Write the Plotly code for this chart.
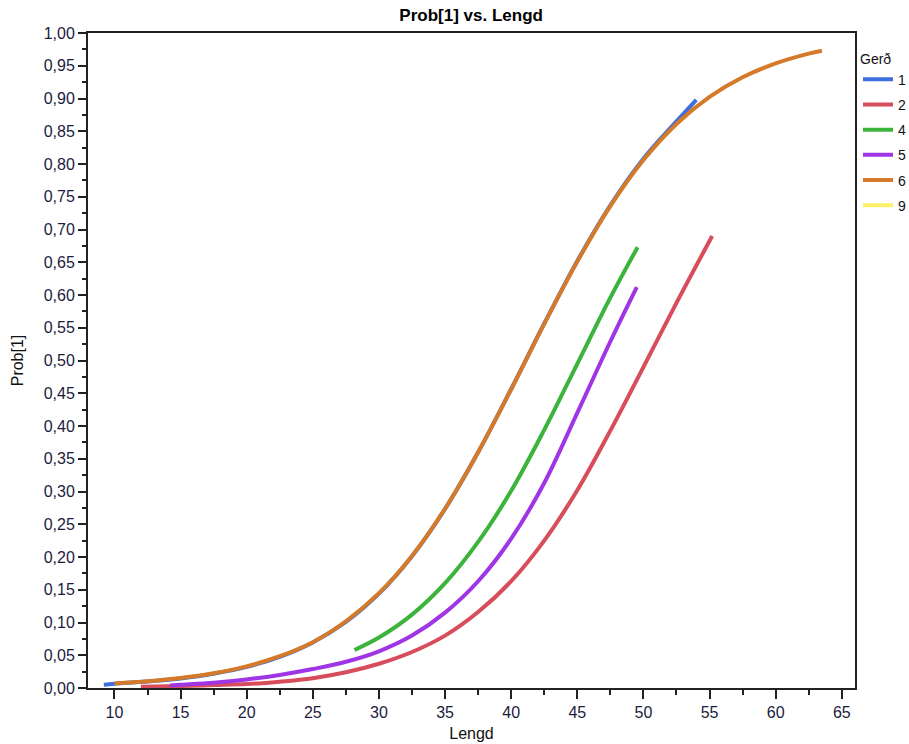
import plotly.graph_objects as go

# ---- data ----
ger_names = ["1", "2", "4", "5", "6", "9"]

x_1 = [9.2, 10, 12.5, 15, 17.5, 20, 22.5, 25, 27.5, 30, 32.5, 35, 37.5, 40, 42.5, 45, 47.5, 50, 52.5, 54.0]
y_1 = [0.005, 0.0066, 0.0098, 0.0146, 0.0218, 0.0322, 0.0475, 0.0695, 0.1008, 0.1440, 0.2012, 0.2735, 0.3600, 0.4565, 0.5565, 0.6520, 0.7370, 0.8080, 0.8650, 0.8980]

x_2 = [12, 15, 17.5, 20, 22.5, 25, 27.5, 30, 32.5, 35, 37.5, 40, 42.5, 45, 47.5, 50, 52.5, 55.2]
y_2 = [0.002, 0.003, 0.0045, 0.006, 0.0097, 0.015, 0.024, 0.037, 0.055, 0.080, 0.116, 0.163, 0.225, 0.302, 0.393, 0.490, 0.588, 0.690]

x_4 = [28.15, 30, 32.5, 35, 37.5, 40, 42.5, 45, 47.5, 49.56]
y_4 = [0.058, 0.077, 0.112, 0.160, 0.223, 0.301, 0.394, 0.495, 0.596, 0.673]

x_5 = [14.2, 15, 17.5, 20, 22.5, 25, 27.5, 30, 32.5, 35, 37.5, 40, 42.5, 45, 47.5, 49.5]
y_5 = [0.004, 0.005, 0.008, 0.013, 0.020, 0.029, 0.040, 0.056, 0.080, 0.115, 0.163, 0.228, 0.313, 0.420, 0.529, 0.612]

x_6 = [10, 12.5, 15, 17.5, 20, 22.5, 25, 27.5, 30, 32.5, 35, 37.5, 40, 42.5, 45, 47.5, 50, 52.5, 55, 57.5, 60, 62.5, 63.5]
y_6 = [0.0069, 0.0102, 0.0151, 0.0224, 0.0331, 0.0485, 0.0700, 0.1019, 0.1448, 0.2017, 0.2737, 0.3599, 0.4561, 0.5558, 0.6511, 0.7357, 0.8060, 0.8611, 0.9024, 0.9324, 0.9536, 0.9685, 0.9730]

# group 9 appears only in the legend (no visible curve)
x_9 = [None]
y_9 = [None]

series_x = [x_1, x_2, x_4, x_5, x_6, x_9]
series_y = [y_1, y_2, y_4, y_5, y_6, y_9]
colors = ["#3d6fdf", "#d84d5c", "#3cb43c", "#a035e6", "#d47a28", "#fff26a"]

fig = go.Figure()
for name, xs, ys, c in zip(ger_names, series_x, series_y, colors):
    fig.add_trace(go.Scatter(
        x=xs, y=ys, name=name, mode="lines",
        line=dict(color=c, width=4, shape="spline", smoothing=1.0),
        legendgroup=name, showlegend=True,
    ))

FONT = "Liberation Sans, Arial, sans-serif"
axis_font = dict(family=FONT, size=16, color="#1c1c40")

fig.update_layout(
    width=909, height=744,
    margin=dict(l=88, r=54, t=33, b=56, autoexpand=False),
    paper_bgcolor="white", plot_bgcolor="white",
    separators=", ",
    font=dict(family=FONT, size=14, color="#111"),
    title=dict(text="<b>Prob[1] vs. Lengd</b>", x=0.5183, xanchor="center",
               y=1 - 15 / 744, yanchor="middle", yref="container",
               font=dict(size=17, color="#000")),
    showlegend=True,
    legend=dict(
        title=dict(text="Gerð", font=dict(size=14, color="#111")),
        x=1.0039, xanchor="left", y=0.981, yanchor="top",
        traceorder="grouped", tracegroupgap=4,
        font=dict(size=14, color="#111"),
        bgcolor="rgba(0,0,0,0)", itemwidth=30,
    ),
    xaxis=dict(
        range=[8, 66], tickmode="linear", tick0=10, dtick=5,
        showgrid=False, zeroline=False,
        showline=True, linecolor="#222", linewidth=2, mirror=True,
        ticks="outside", ticklen=9, tickwidth=2, tickcolor="#222",
        tickfont=axis_font,
        minor=dict(tickmode="linear", tick0=7.5, dtick=5, ticks="outside", ticklen=5, tickwidth=2, tickcolor="#222"),
        title=dict(text="Lengd", standoff=8, font=dict(size=16, color="#111")),
    ),
    yaxis=dict(
        range=[0, 1], tickmode="linear", tick0=0, dtick=0.05, tickformat=".2f",
        showgrid=False, zeroline=False,
        showline=True, linecolor="#222", linewidth=2, mirror=True,
        ticks="outside", ticklen=8, tickwidth=2, tickcolor="#222",
        tickfont=axis_font,
        minor=dict(tickmode="linear", tick0=0.025, dtick=0.05, ticks="outside", ticklen=4, tickwidth=2, tickcolor="#222"),
        title=dict(text="Prob[1]", standoff=16, font=dict(size=16, color="#111")),
    ),
)

fig.write_html("out.html")
